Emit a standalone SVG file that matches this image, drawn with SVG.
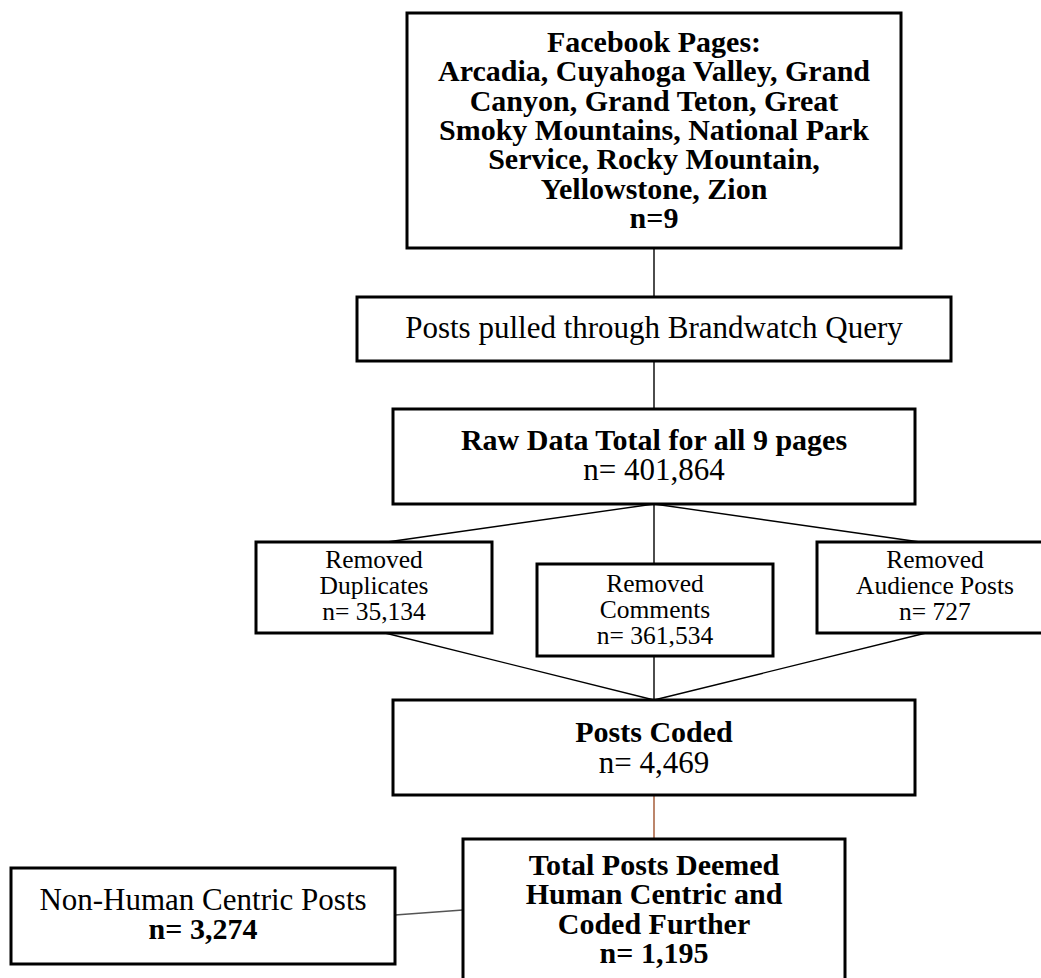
<svg xmlns="http://www.w3.org/2000/svg" width="1041" height="978" viewBox="0 0 1041 978">
<style>
.box{fill:#fff;stroke:#000;stroke-width:3}
.t{font-family:"Liberation Serif","Times New Roman",serif;text-anchor:middle;fill:#000}
.b{font-weight:bold}
.c{stroke:#000;stroke-width:1.4;fill:none}
</style>
<rect width="1041" height="978" fill="#fff"/>
<g id="connectors">
<line class="c" x1="654" y1="248" x2="654" y2="297"/>
<line class="c" x1="654" y1="361" x2="654" y2="409"/>
<line class="c" x1="654" y1="504" x2="387" y2="542"/>
<line class="c" x1="654" y1="504" x2="654" y2="564"/>
<line class="c" x1="654" y1="504" x2="920" y2="542"/>
<line class="c" x1="385" y1="633" x2="654" y2="700"/>
<line class="c" x1="654" y1="656" x2="654" y2="700"/>
<line class="c" x1="926" y1="633" x2="654" y2="700"/>
<line x1="654" y1="795" x2="654" y2="839" stroke="#a0522d" stroke-width="1.4"/>
<line x1="395" y1="915" x2="463" y2="910" stroke="#555" stroke-width="1.4"/>
</g>
<g id="facebook">
<rect class="box" x="407" y="13" width="494" height="235"/>
<text class="t b" font-size="30"><tspan x="654" y="52">Facebook Pages:</tspan><tspan x="654" y="81.3">Arcadia, Cuyahoga Valley, Grand</tspan><tspan x="654" y="110.6">Canyon, Grand Teton, Great</tspan><tspan x="654" y="139.9">Smoky Mountains, National Park</tspan><tspan x="654" y="169.2">Service, Rocky Mountain,</tspan><tspan x="654" y="198.5">Yellowstone, Zion</tspan><tspan x="654" y="227.8">n=9</tspan></text>
</g>
<g id="brandwatch">
<rect class="box" x="357" y="297" width="594" height="64"/>
<text class="t" font-size="31" x="654" y="338">Posts pulled through Brandwatch Query</text>
</g>
<g id="raw">
<rect class="box" x="393" y="409" width="522" height="95"/>
<text class="t b" font-size="30" x="654" y="450">Raw Data Total for all 9 pages</text>
<text class="t" font-size="31" x="654" y="480">n= 401,864</text>
</g>
<g id="duplicates">
<rect class="box" x="256" y="542" width="236" height="91"/>
<text class="t" font-size="25.5"><tspan x="374" y="568">Removed</tspan><tspan x="374" y="594">Duplicates</tspan><tspan x="374" y="620">n= 35,134</tspan></text>
</g>
<g id="comments">
<rect class="box" x="537" y="564" width="236" height="92"/>
<text class="t" font-size="25.5"><tspan x="655" y="592">Removed</tspan><tspan x="655" y="618">Comments</tspan><tspan x="655" y="644">n= 361,534</tspan></text>
</g>
<g id="audience">
<rect class="box" x="817" y="542" width="237" height="91"/>
<text class="t" font-size="25.5"><tspan x="935" y="568">Removed</tspan><tspan x="935" y="594">Audience Posts</tspan><tspan x="935" y="620">n= 727</tspan></text>
</g>
<g id="coded">
<rect class="box" x="393" y="700" width="522" height="95"/>
<text class="t b" font-size="30" x="654" y="742">Posts Coded</text>
<text class="t" font-size="31" x="654" y="773">n= 4,469</text>
</g>
<g id="nonhuman">
<rect class="box" x="11" y="868" width="384" height="96"/>
<text class="t" font-size="31" x="203" y="910">Non-Human Centric Posts</text>
<text class="t b" font-size="30" x="203" y="939">n= 3,274</text>
</g>
<g id="humancentric">
<rect class="box" x="463" y="839" width="382" height="160"/>
<text class="t b" font-size="30"><tspan x="654" y="875">Total Posts Deemed</tspan><tspan x="654" y="904.3">Human Centric and</tspan><tspan x="654" y="933.6">Coded Further</tspan><tspan x="654" y="963">n= 1,195</tspan></text>
</g>
</svg>
